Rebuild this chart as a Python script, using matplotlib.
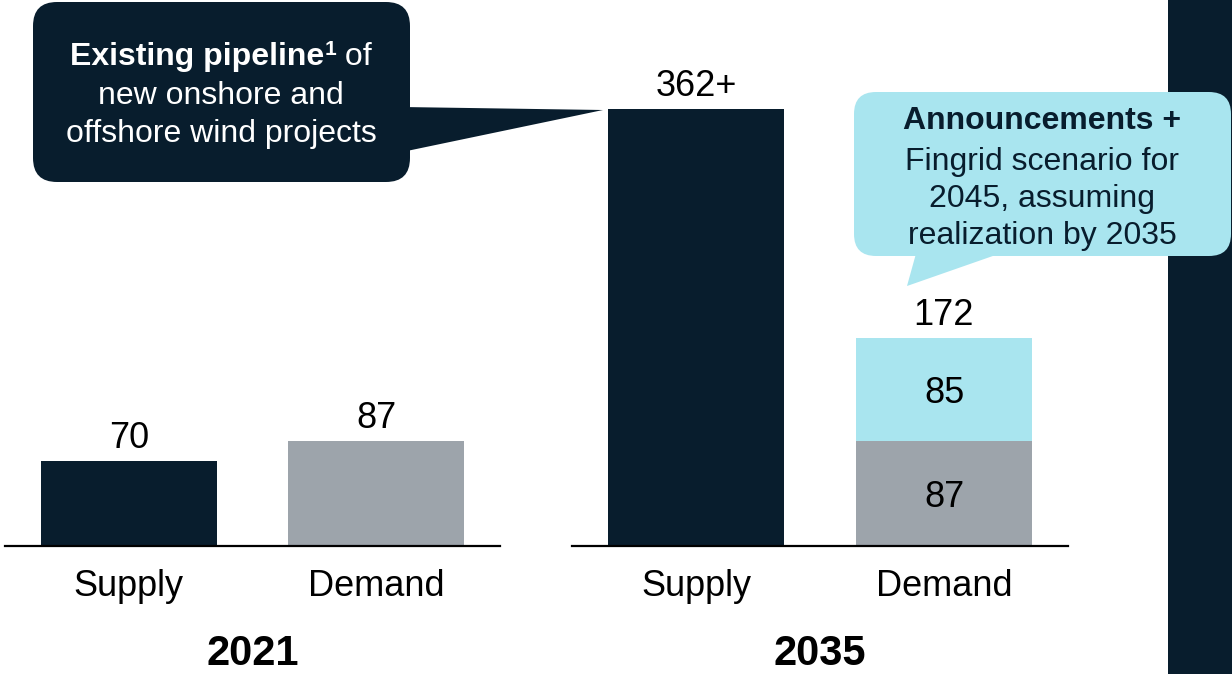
import matplotlib
matplotlib.use('Agg')
import matplotlib.pyplot as plt
from matplotlib.patches import FancyBboxPatch, Polygon, Rectangle
from matplotlib.transforms import IdentityTransform

plt.rcParams['font.family'] = ['Liberation Sans', 'DejaVu Sans']

W, H = 1232, 674

# ---- data ----
categories = ['Supply', 'Demand']
years = ['2021', '2035']
supply = [70, 362]
demand_base = [87, 87]
demand_add = [0, 85]
supply_labels = ['70', '362+']
demand_total_labels = ['87', '172']

NAVY = '#081D2D'
GRAY = '#9DA4AB'
CYAN = '#A9E5EF'
BAR_W = 0.71

fig = plt.figure(figsize=(W / 100, H / 100), dpi=100)
fig.patch.set_facecolor('white')


def ax_rect(x0, x1, ytop, ybase):
    return [x0 / W, 1 - ybase / H, (x1 - x0) / W, (ybase - ytop) / H]


axes = [fig.add_axes(ax_rect(5, 500, 0, 546)), fig.add_axes(ax_rect(572, 1068, 0, 546))]
PX = 72 / 100  # points per pixel

for i, ax in enumerate(axes):
    ax.bar(0, supply[i], width=BAR_W, color=NAVY, zorder=2)
    ax.bar(1, demand_base[i], width=BAR_W, color=GRAY, zorder=2)
    if demand_add[i]:
        ax.bar(1, demand_add[i], bottom=demand_base[i], width=BAR_W, color=CYAN, zorder=2)
    ax.set_xlim(-0.5, 1.5)
    ax.set_ylim(0, 452)
    for s in ['top', 'right', 'left']:
        ax.spines[s].set_visible(False)
    ax.spines['bottom'].set_linewidth(1.6)
    ax.spines['bottom'].set_color('black')
    ax.set_yticks([])
    ax.set_xticks([])
    ax.patch.set_alpha(0)

    # value labels
    ax.annotate(supply_labels[i], xy=(0, supply[i]), xytext=(0, 13 * PX),
                textcoords='offset points', ha='center', va='baseline',
                fontsize=26, color='black', annotation_clip=False)
    top = demand_base[i] + demand_add[i]
    ax.annotate(demand_total_labels[i], xy=(1, top), xytext=(0, 13 * PX),
                textcoords='offset points', ha='center', va='baseline',
                fontsize=26, color='black', annotation_clip=False)
    if demand_add[i]:
        ax.text(1, demand_base[i] / 2, str(demand_base[i]), ha='center',
                va='center_baseline', fontsize=26, color='black', zorder=3)
        ax.text(1, demand_base[i] + demand_add[i] / 2, str(demand_add[i]), ha='center',
                va='center_baseline', fontsize=26, color='black', zorder=3)

    # category labels
    for j, cat in enumerate(categories):
        ax.annotate(cat, xy=(j, 0), xytext=(0, -50 * PX), textcoords='offset points',
                    ha='center', va='baseline', fontsize=26, color='black',
                    annotation_clip=False)
    # year label
    ax.annotate(years[i], xy=(0.5, 0), xycoords='axes fraction', xytext=(0, -119 * PX),
                textcoords='offset points', ha='center', va='baseline', fontsize=30,
                fontweight='bold', color='black', annotation_clip=False)

ID = IdentityTransform()

# right sidebar
fig.add_artist(Rectangle((1168, 0), 64, H, transform=ID, color=NAVY, zorder=1, lw=0))

# left callout
fig.add_artist(FancyBboxPatch((33, H - 182), 377, 180,
                              boxstyle='round,pad=0,rounding_size=24',
                              transform=ID, color=NAVY, lw=0, zorder=2))
fig.add_artist(Polygon([(402, H - 107), (603, H - 110), (402, H - 152)], closed=True,
                       transform=ID, color=NAVY, lw=0, zorder=2))

# right callout
fig.add_artist(FancyBboxPatch((854, H - 256), 377, 164,
                              boxstyle='round,pad=0,rounding_size=22',
                              transform=ID, color=CYAN, lw=0, zorder=2))
fig.add_artist(Polygon([(917, H - 250), (907, H - 286), (1010, H - 250)], closed=True,
                       transform=ID, color=CYAN, lw=0, zorder=2))

r = fig.canvas.get_renderer()


def mixed_line(parts, cx, base, color):
    objs, widths = [], []
    for txt, wt, sz, dy in parts:
        t = fig.text(0, 0, txt, fontsize=sz, fontweight=wt, color=color,
                     transform=ID, va='baseline', ha='left', zorder=3)
        objs.append(t)
        widths.append(t.get_window_extent(r).width)
    x = cx - sum(widths) / 2
    for t, w, p in zip(objs, widths, parts):
        t.set_position((x, H - base + p[3]))
        x += w


CS = 23
mixed_line([('Existing pipeline', 'bold', CS, 0), ('1', 'bold', 15, 10), (' of', 'normal', CS, 0)],
           221, 65, 'white')
mixed_line([('new onshore and', 'normal', CS, 0)], 221, 104, 'white')
mixed_line([('offshore wind projects', 'normal', CS, 0)], 221, 142, 'white')

mixed_line([('Announcements +', 'bold', CS, 0)], 1042, 129, NAVY)
mixed_line([('Fingrid scenario for', 'normal', CS, 0)], 1042, 170, NAVY)
mixed_line([('2045, assuming', 'normal', CS, 0)], 1042, 207, NAVY)
mixed_line([('realization by 2035', 'normal', CS, 0)], 1042, 244, NAVY)

fig.savefig('out.png', dpi=100)
